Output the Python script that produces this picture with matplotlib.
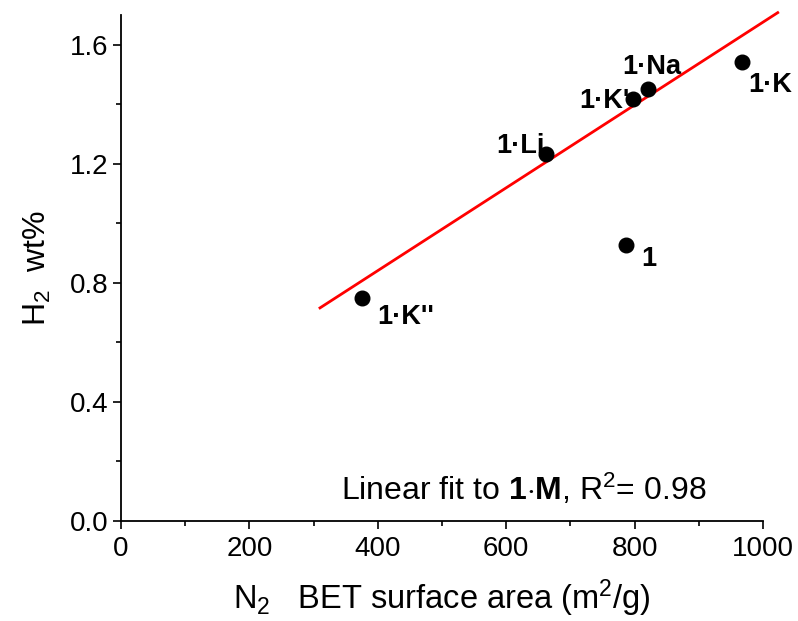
import numpy as np
import matplotlib
matplotlib.use("Agg")
import matplotlib.pyplot as plt
from matplotlib.ticker import MultipleLocator

plt.rcParams['font.family'] = ['Liberation Sans', 'DejaVu Sans']
plt.rcParams['mathtext.fontset'] = 'custom'
plt.rcParams['mathtext.rm'] = 'Liberation Sans'
plt.rcParams['mathtext.bf'] = 'Liberation Sans:bold'
plt.rcParams['mathtext.it'] = 'Liberation Sans:italic'

# data
samples = ["1\u00b7K''", "1", "1\u00b7Li", "1\u00b7K'", "1\u00b7Na", "1\u00b7K"]
bet_area = [375, 787, 662, 797, 821, 967]
h2_wt = [0.75, 0.928, 1.234, 1.418, 1.452, 1.543]

# linear fit line end points
fit_x = [310, 1023]
fit_y = [0.716, 1.708]

# label offsets (points) and alignment per sample
label_offsets = [(11.5, -13.5, 'left'), (10.5, -10.5, 'left'), (-1.0, 5.5, 'right'),
                 (-2.0, -1.5, 'right'), (-18.5, 16.0, 'left'), (4.3, -16.5, 'left')]

fig = plt.figure(figsize=(7.98, 6.21), dpi=100)
ax = fig.add_axes([0.1516, 0.161, 0.8045, 0.8148])

ax.plot(fit_x, fit_y, color='red', linewidth=2.0, clip_on=False, zorder=2)
ax.plot(bet_area, h2_wt, linestyle='none', marker='o', color='black', ms=10.5, zorder=3, clip_on=False)

for i in range(len(samples)):
    dx, dy, ha = label_offsets[i]
    ax.annotate(samples[i], (bet_area[i], h2_wt[i]), xytext=(dx, dy), textcoords='offset points',
                ha=ha, va='center', fontsize=19.5, fontweight='bold', zorder=4)

ax.text(343, 0.107, r"Linear fit to $\mathbf{1{\cdot}M}$, R$^2$= 0.98", fontsize=23,
        ha='left', va='center')

ax.set_xlim(0, 1000)
ax.set_ylim(0, 1.70)
ax.set_xticks(np.arange(0, 1001, 200))
ax.set_yticks(np.arange(0, 1.61, 0.4))
ax.set_yticklabels(["0.0", "0.4", "0.8", "1.2", "1.6"])
ax.xaxis.set_minor_locator(MultipleLocator(100))
ax.yaxis.set_minor_locator(MultipleLocator(0.2))

for s in ['top', 'right']:
    ax.spines[s].set_visible(False)
for s in ['left', 'bottom']:
    ax.spines[s].set_linewidth(1.3)

ax.tick_params(which='major', direction='out', length=6, width=1.2, labelsize=20, pad=3)
ax.tick_params(which='minor', direction='out', length=3.5, width=1.2)
ax.tick_params(axis='x', which='major', pad=5)

ax.set_xlabel(r"N$_2$   BET surface area (m$^2$/g)", fontsize=23.5, labelpad=11)
ax.set_ylabel(r"H$_2$  wt%", fontsize=23, labelpad=12)

fig.savefig("out.png", dpi=100)
